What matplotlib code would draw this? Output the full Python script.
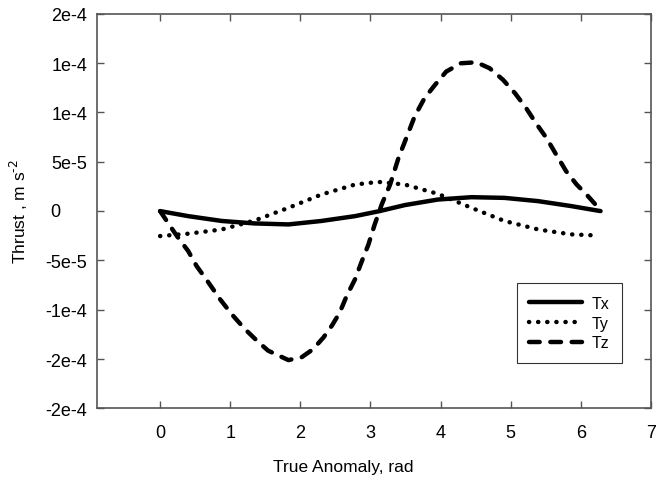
import matplotlib
matplotlib.use('Agg')
import matplotlib.pyplot as plt

# ============================================================================
# DATA
# ============================================================================

# Tx - solid
tx_x = [0.0, 0.40, 0.88, 1.35, 1.83, 2.30, 2.78, 3.13, 3.49, 3.96, 4.44, 4.91, 5.39, 5.86, 6.28]
tx_y = [0.0, -5.1e-6, -1.0e-5, -1.25e-5, -1.35e-5, -1.0e-5, -5.1e-6, 0.0,
        6.1e-6, 1.17e-5, 1.41e-5, 1.34e-5, 1.01e-5, 5.1e-6, 0.0]

# Ty - dotted
ty_x = [0.0, 0.40, 0.88, 1.35, 1.83, 2.30, 2.78, 3.11, 3.49, 3.96, 4.44, 4.91, 5.39, 5.86, 6.20]
ty_y = [-2.53e-5, -2.29e-5, -1.86e-5, -9.5e-6, 3.3e-6, 1.68e-5, 2.69e-5, 2.96e-5,
        2.69e-5, 1.75e-5, 3.3e-6, -1.0e-5, -1.86e-5, -2.36e-5, -2.46e-5]

# Tz - dashed
tz_x = [0.0, 0.24, 0.40, 0.52, 0.69, 0.855, 1.02, 1.21, 1.38, 1.54, 1.83, 2.02, 2.18,
        2.33, 2.45, 2.56, 2.66, 2.78, 2.87, 2.97, 3.06, 3.16, 3.28, 3.40, 3.51, 3.63,
        3.77, 3.92, 4.08, 4.29, 4.51, 4.70, 4.89, 5.06, 5.22, 5.36, 5.51, 5.65, 5.79,
        5.94, 6.08, 6.25, 6.28]
tz_y = [0.0, -2.53e-5, -4.04e-5, -5.56e-5, -7.24e-5, -8.93e-5, -1.044e-4, -1.196e-4,
        -1.313e-4, -1.414e-4, -1.51e-4, -1.48e-4, -1.40e-4, -1.28e-4, -1.16e-4,
        -1.03e-4, -8.6e-5, -6.9e-5, -5.2e-5, -3.4e-5, -1.35e-5, 6.7e-6, 2.7e-5,
        5.4e-5, 7.4e-5, 9.6e-5, 1.144e-4, 1.279e-4, 1.414e-4, 1.498e-4, 1.508e-4,
        1.447e-4, 1.33e-4, 1.195e-4, 1.043e-4, 8.9e-5, 7.4e-5, 5.7e-5, 4.04e-5,
        2.69e-5, 1.68e-5, 3.3e-6, 0.0]

y_ticks = [-2e-4, -1.5e-4, -1e-4, -5e-5, 0, 5e-5, 1e-4, 1.5e-4, 2e-4]
y_tick_labels = ['-2e-4', '-2e-4', '-1e-4', '-5e-5', '0', '5e-5', '1e-4', '1e-4', '2e-4']
x_ticks = [0, 1, 2, 3, 4, 5, 6, 7]

# ============================================================================
# PLOT
# ============================================================================

plt.rcParams['font.family'] = ['Liberation Sans', 'DejaVu Sans']

fig = plt.figure(figsize=(6.57, 4.81), dpi=100)
ax = fig.add_axes([0.1476, 0.1487, 0.8433, 0.8207])

lw = 3.2
ax.plot(tx_x, tx_y, color='black', linewidth=lw, linestyle='-',
        solid_capstyle='round', solid_joinstyle='round', label='Tx')
ax.plot(ty_x, ty_y, color='black', linewidth=lw, linestyle=(0, (0.05, 2.0)),
        dash_capstyle='round', label='Ty')
ax.plot(tz_x, tz_y, color='black', linewidth=lw, linestyle=(0, (2.4, 2.4)),
        dash_capstyle='round', label='Tz')

ax.set_xlim(-0.9, 7)
ax.set_ylim(-2e-4, 2e-4)
ax.set_xticks(x_ticks)
ax.set_yticks(y_ticks)
# the "0" label sits further left than the others in the original
ax.set_yticklabels(['' if t == '0' else t for t in y_tick_labels])
ax.text(-0.0668, 0, '0', transform=ax.get_yaxis_transform(),
        ha='right', va='center', fontsize=13)

ax.tick_params(direction='in', top=True, right=True, length=5, width=1,
               color='#555555', labelsize=13)
ax.tick_params(axis='x', pad=11)
ax.tick_params(axis='y', pad=7)
for s in ax.spines.values():
    s.set_color('#555555')
    s.set_linewidth(1.2)

ax.set_xlabel('True Anomaly, rad', fontsize=12.5)
ax.xaxis.set_label_coords(0.445, -0.128)
ax.set_ylabel('Thrust , m s$^{\\text{-}2}$', fontsize=12.5)
ax.yaxis.set_label_coords(-0.12, 0.5)

leg = ax.legend(loc='upper left', bbox_to_anchor=(0.7576, 0.318), borderaxespad=0,
                frameon=True, fancybox=False, edgecolor='black',
                fontsize=11.5, handlelength=3.3, handletextpad=0.6,
                labelspacing=0.3, borderpad=0.8)
leg.get_frame().set_linewidth(0.8)

plt.savefig('out.png', dpi=100)
